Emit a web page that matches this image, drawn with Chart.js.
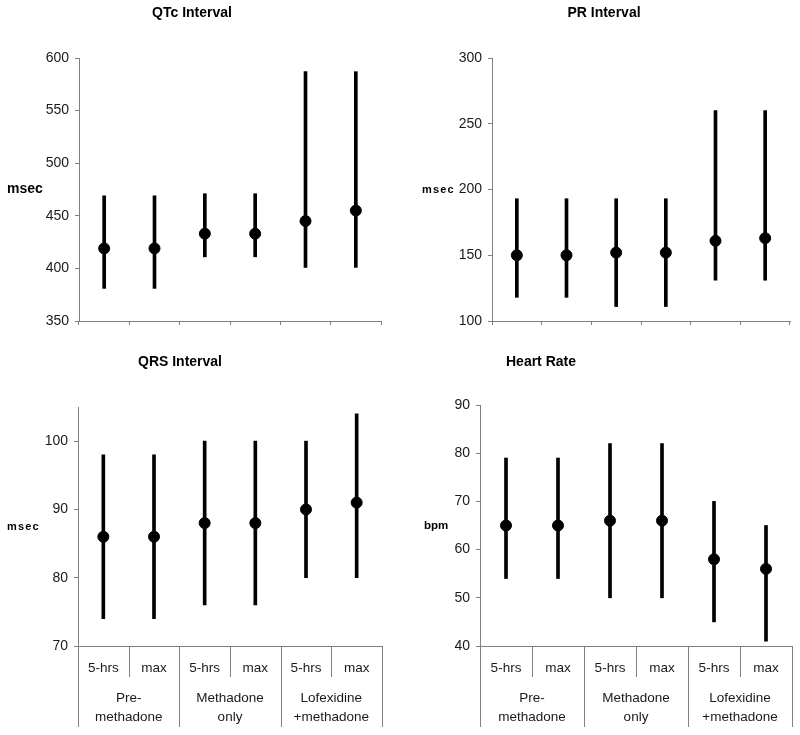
<!DOCTYPE html>
<html>
<head>
<meta charset="utf-8">
<script src="https://cdn.jsdelivr.net/npm/chart.js@4.4.1/dist/chart.umd.min.js"></script>
<style>
  html, body { margin: 0; padding: 0; background: #fff; }
  #wrap { position: relative; width: 800px; height: 735px; }
  .panel { position: absolute; }
  canvas { display: block; }
</style>
</head>
<body>
<div id="wrap">
  <div class="panel" style="left:0;top:0"><canvas id="qtc" width="400" height="345"></canvas></div>
  <div class="panel" style="left:400px;top:0"><canvas id="pr" width="400" height="345"></canvas></div>
  <div class="panel" style="left:0;top:345px"><canvas id="qrs" width="400" height="390"></canvas></div>
  <div class="panel" style="left:400px;top:345px"><canvas id="hr" width="400" height="390"></canvas></div>
</div>
<script>
// categories
const timepoints = ['5-hrs', 'max', '5-hrs', 'max', '5-hrs', 'max'];
const groupLabels = [['Pre-', 'methadone'], ['Methadone', 'only'], ['Lofexidine', '+methadone']];

// QTc interval (msec)
const qtcMean = [419, 419, 433, 433, 445, 455];
const qtcLow  = [381, 381, 411, 411, 401, 401];
const qtcHigh = [469, 469, 471, 471, 587, 587];
const qtcTicks = [350, 400, 450, 500, 550, 600];

// PR interval (msec)
const prMean = [150, 150, 152, 152, 161, 163];
const prLow  = [118, 118, 111, 111, 131, 131];
const prHigh = [193, 193, 193, 193, 260, 260];
const prTicks = [100, 150, 200, 250, 300];

// QRS interval (msec)
const qrsMean = [86, 86, 88, 88, 90, 91];
const qrsLow  = [74, 74, 76, 76, 80, 80];
const qrsHigh = [98, 98, 100, 100, 100, 104];
const qrsTicks = [70, 80, 90, 100];

// heart rate (bpm)
const hrMean = [65, 65, 66, 66, 58, 56];
const hrLow  = [54, 54, 50, 50, 45, 41];
const hrHigh = [79, 79, 82, 82, 70, 65];
const hrTicks = [40, 50, 60, 70, 80, 90];

const FONT = '"Liberation Sans", Arial, sans-serif';
const AXIS = '#808080';
const TEXT = '#1a1a1a';

// titles, unit label, and the two-row category table under the bottom charts
const decor = {
  id: 'decor',
  afterDraw(chart, args, o) {
    const { ctx, chartArea: a } = chart;
    const xs = chart.scales.x;
    ctx.save();
    ctx.fillStyle = '#000';
    ctx.textBaseline = 'middle';
    ctx.textAlign = 'center';
    ctx.font = 'bold 14px ' + FONT;
    ctx.fillText(o.title, o.titleX, o.titleY);

    ctx.textAlign = 'left';
    ctx.font = o.unitFont;
    ctx.letterSpacing = o.unitSpacing || '0px';
    ctx.fillText(o.unit, o.unitX, (a.top + a.bottom) / 2);
    ctx.letterSpacing = '0px';

    if (o.groups) {
      const n = chart.data.labels.length;
      const per = n / o.groups.length;
      const edge = i => i === 0 ? a.left : i === n ? a.right
        : (xs.getPixelForTick(i - 1) + xs.getPixelForTick(i)) / 2;
      ctx.strokeStyle = AXIS;
      ctx.lineWidth = 1;
      for (let i = 0; i <= n; i++) {
        const px = Math.round(edge(i)) + 0.5;
        ctx.beginPath();
        ctx.moveTo(px, a.bottom);
        ctx.lineTo(px, a.bottom + (i % per === 0 ? 81 : 31));
        ctx.stroke();
      }
      ctx.fillStyle = TEXT;
      ctx.textAlign = 'center';
      ctx.font = '13.5px ' + FONT;
      o.groups.forEach((g, k) => {
        const cx = (edge(k * per) + edge((k + 1) * per)) / 2;
        g.forEach((line, j) => ctx.fillText(line, cx, a.bottom + 52 + j * 19));
      });
    }
    ctx.restore();
  }
};

function panel(id, p) {
  new Chart(document.getElementById(id), {
    type: 'bar',
    data: {
      labels: timepoints,
      datasets: [
        {
          type: 'line',
          data: p.mean,
          showLine: false,
          pointRadius: 5.5,
          pointBorderWidth: 1,
          pointBackgroundColor: '#000',
          pointBorderColor: '#000',
          order: 0
        },
        {
          data: p.low.map((v, i) => [v, p.high[i]]),
          backgroundColor: '#000',
          borderWidth: 0,
          barThickness: 3,
          order: 1
        }
      ]
    },
    options: {
      responsive: false,
      animation: false,
      layout: { padding: p.pad },
      plugins: {
        legend: { display: false },
        tooltip: { enabled: false },
        decor: p.decor
      },
      scales: {
        x: {
          offset: true,
          afterFit: s => { s.height = p.xHeight; },
          grid: { offset: true, drawOnChartArea: false, drawTicks: !p.decor.groups, tickLength: 4, color: AXIS },
          border: { color: AXIS },
          ticks: { display: !!p.decor.groups, padding: 14, color: TEXT, font: { family: FONT, size: 13.5 } }
        },
        y: {
          min: p.ticks[0],
          max: p.max,
          afterBuildTicks: s => { s.ticks = p.ticks.map(v => ({ value: v })); },
          afterFit: s => { s.width = 45; },
          grid: { drawOnChartArea: false, tickLength: 4, color: AXIS },
          border: { color: AXIS },
          ticks: { padding: 6, color: TEXT, font: { family: FONT, size: 14 } }
        }
      }
    },
    plugins: [decor]
  });
}

panel('qtc', {
  mean: qtcMean, low: qtcLow, high: qtcHigh, ticks: qtcTicks, max: 600,
  pad: { left: 34, right: 19, top: 58, bottom: 14 }, xHeight: 10,
  decor: { title: 'QTc Interval', titleX: 192, titleY: 13, unit: 'msec', unitX: 7, unitFont: 'bold 14px ' + FONT }
});

panel('pr', {
  mean: prMean, low: prLow, high: prHigh, ticks: prTicks, max: 300,
  pad: { left: 47, right: 10, top: 58, bottom: 14 }, xHeight: 10,
  decor: { title: 'PR Interval', titleX: 204, titleY: 13, unit: 'msec', unitX: 22, unitFont: 'bold 11px ' + FONT, unitSpacing: '1.2px' }
});

panel('qrs', {
  mean: qrsMean, low: qrsLow, high: qrsHigh, ticks: qrsTicks, max: 105,
  pad: { left: 33, right: 18, top: 62, bottom: 4 }, xHeight: 85,
  decor: { title: 'QRS Interval', titleX: 180, titleY: 17, unit: 'msec', unitX: 7, unitFont: 'bold 11px ' + FONT, unitSpacing: '1.2px', groups: groupLabels }
});

panel('hr', {
  mean: hrMean, low: hrLow, high: hrHigh, ticks: hrTicks, max: 90,
  pad: { left: 35, right: 8, top: 60, bottom: 4 }, xHeight: 85,
  decor: { title: 'Heart Rate', titleX: 141, titleY: 17, unit: 'bpm', unitX: 24, unitFont: 'bold 11.5px ' + FONT, groups: groupLabels }
});
</script>
</body>
</html>
